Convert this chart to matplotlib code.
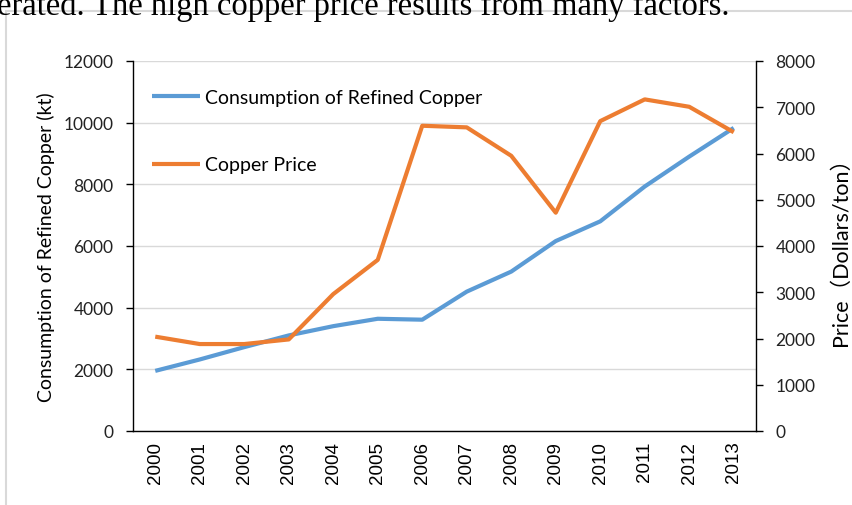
import matplotlib.pyplot as plt
from matplotlib.patches import Rectangle

years = ["2000", "2001", "2002", "2003", "2004", "2005", "2006",
         "2007", "2008", "2009", "2010", "2011", "2012", "2013"]
consumption = [1950, 2320, 2720, 3100, 3400, 3640, 3610,
               4520, 5170, 6160, 6800, 7930, 8900, 9830]
price = [2040, 1880, 1880, 1980, 2960, 3700, 6600,
         6565, 5950, 4720, 6700, 7170, 7010, 6460]

blue = "#5B9BD5"
orange = "#ED7D31"
ui_font = "Lato"

fig = plt.figure(figsize=(8.53, 5.06), dpi=100)
W, H = 853, 506
# axes box in pixels: left 133, right 756, top 62, bottom 432
ax = fig.add_axes([133 / W, 1 - 432 / H, (756 - 133) / W, (432 - 62) / H])
ax2 = ax.twinx()

x = list(range(len(years)))
l1, = ax.plot(x, consumption, color=blue, lw=3, solid_capstyle="butt", zorder=3)
l2, = ax2.plot(x, price, color=orange, lw=3, solid_capstyle="butt", zorder=3)

ax.set_xlim(-0.5, len(years) - 0.5)
ax.set_ylim(0, 12000)
ax2.set_ylim(0, 8000)
ax.set_yticks(range(0, 12001, 2000))
ax2.set_yticks(range(0, 8001, 1000))
ax.set_xticks(x)
ax.set_xticklabels(years, rotation=90, family="Liberation Sans", fontsize=13.5)

ax.grid(axis="y", color="#d9d9d9", lw=1)
ax.set_axisbelow(True)
for a in (ax, ax2):
    a.spines["top"].set_visible(False)
    for s in ("left", "right", "bottom"):
        a.spines[s].set_color("black")
        a.spines[s].set_linewidth(1.0)
ax.spines["right"].set_visible(False)
ax2.spines["left"].set_visible(False)
ax2.spines["bottom"].set_visible(False)

ax.tick_params(axis="x", length=0, pad=7)
ax.tick_params(axis="y", length=5, width=1, pad=9, labelsize=12.5)
ax2.tick_params(axis="y", length=5, width=1, pad=9, labelsize=12.5)
for lab in ax.get_yticklabels() + ax2.get_yticklabels():
    lab.set_family(ui_font)
    lab.set_color("#222222")

ax.set_ylabel("Consumption of Refined Copper (kt)", family=ui_font,
              fontsize=14, labelpad=6)
ax2.set_ylabel("Price\uff08Dollars/ton\uff09", family=[ui_font, "Noto Sans CJK SC"],
               fontsize=15.5, labelpad=11)

leg = ax.legend([l1, l2], ["Consumption of Refined Copper", "Copper Price"],
                loc="upper left", bbox_to_anchor=(0.03, 0.925), frameon=False,
                borderpad=0, borderaxespad=0, labelspacing=2.6,
                handlelength=2.47, handletextpad=0.26,
                prop={"family": ui_font, "size": 14})

# gray chart frame from the source document
fig.patches.append(Rectangle((6 / W, -0.1), 1.0, 1 - 12 / H + 0.1,
                             transform=fig.transFigure, fill=False,
                             edgecolor="#d9d9d9", lw=1.5))
# cut-off line of body text above the chart
fig.text(-0.003, 1 - 15 / H, "erated. The high copper price results from many factors.",
         family="Liberation Serif", fontsize=23.5, va="baseline", ha="left")

fig.savefig("out.png", dpi=100)
